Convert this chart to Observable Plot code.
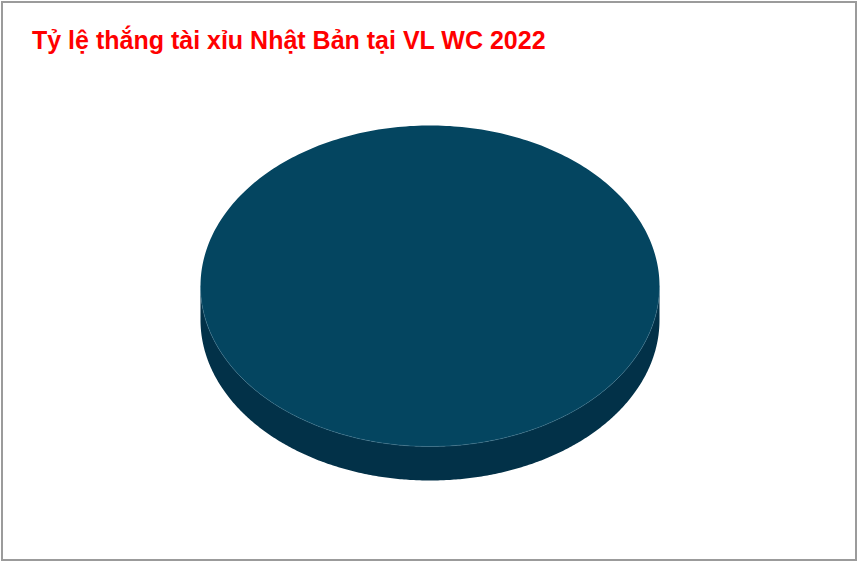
<!DOCTYPE html>
<html>
<head>
<meta charset="utf-8">
<script src="https://cdn.jsdelivr.net/npm/d3@7"></script>
<script src="https://cdn.jsdelivr.net/npm/@observablehq/plot@0.6"></script>
<style>
  html, body { margin: 0; padding: 0; background: #fff; }
  #wrap { position: relative; width: 859px; height: 564px; overflow: hidden; background: #fff; }
  #frame { position: absolute; left: 1px; top: 1px; width: 856px; height: 560px; border: 2px solid #9b9b9b; box-sizing: border-box; pointer-events: none; }
  #title { height: 80px; box-sizing: border-box; padding: 26px 0 0 32px; font-family: "Liberation Sans", Arial, sans-serif; font-weight: bold; font-size: 25px; line-height: 28px; color: #ff0000; white-space: nowrap; }
  #chart svg { display: block; }
</style>
</head>
<body>
<div id="wrap">
  <div id="title">Tỷ lệ thắng tài xỉu Nhật Bản tại VL WC 2022</div>
  <div id="chart"></div>
  <div id="frame"></div>
</div>
<script>
// Data
const categories = ["Tài"];
const values = [100];
const topColors = ["#044560"];
const sideColors = ["#023148"];

// Layout
const W = 859, H = 484;
const cx = 429.5, cy = 205.5, rx = 229.5, ry = 160.5, depth = 34;
const N = 360;

const arcs = d3.pie().sort(null)(values);

const ex = a => cx + rx * Math.sin(a);
const ey = a => cy - ry * Math.cos(a);

const topPts = [];
const sidePts = [];
arcs.forEach((arc, i) => {
  const a0 = arc.startAngle, a1 = arc.endAngle;
  topPts.push({k: i, x: cx, y: cy});
  for (let j = 0; j <= N; j++) {
    const a = a0 + (a1 - a0) * j / N;
    topPts.push({k: i, x: ex(a), y: ey(a)});
  }
  const s0 = Math.max(a0, Math.PI / 2), s1 = Math.min(a1, 3 * Math.PI / 2);
  if (s1 > s0) {
    const upper = [], lower = [];
    for (let j = 0; j <= N; j++) {
      const a = s0 + (s1 - s0) * j / N;
      upper.push({k: i, x: ex(a), y: ey(a)});
      lower.push({k: i, x: ex(a), y: ey(a) + depth});
    }
    sidePts.push(...upper, ...lower.reverse());
  }
});

const rimPts = [];
for (let j = 0; j <= N; j++) {
  const a = Math.PI / 2 + Math.PI * j / N;
  rimPts.push({x: ex(a), y: ey(a)});
}

const chart = Plot.plot({
  width: W,
  height: H,
  margin: 0,
  x: {domain: [0, W], range: [0, W], axis: null},
  y: {domain: [0, H], range: [0, H], axis: null},
  marks: [
    Plot.line(sidePts, {x: "x", y: "y", z: "k", fill: d => sideColors[d.k], stroke: "none", curve: "linear"}),
    Plot.line(topPts, {x: "x", y: "y", z: "k", fill: d => topColors[d.k], stroke: "none", curve: "linear"}),
    Plot.line(rimPts, {x: "x", y: "y", stroke: "#3f7590", strokeWidth: 0.8, strokeOpacity: 0.6})
  ]
});
document.getElementById("chart").appendChild(chart);
</script>
</body>
</html>
